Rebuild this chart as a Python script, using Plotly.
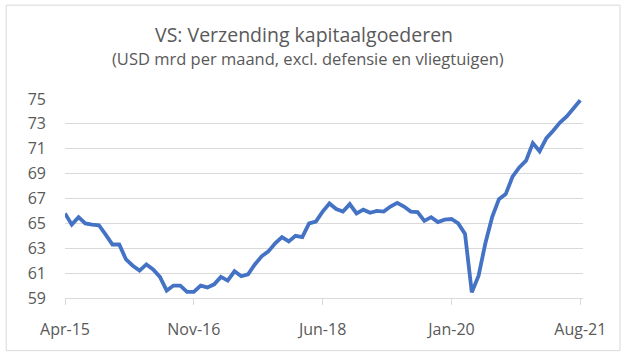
import plotly.graph_objects as go

# Monthly values Apr-2015 .. Aug-2021 (USD bn)
months = ["Apr-15", "May-15", "Jun-15", "Jul-15", "Aug-15", "Sep-15", "Oct-15", "Nov-15", "Dec-15",
          "Jan-16", "Feb-16", "Mar-16", "Apr-16", "May-16", "Jun-16", "Jul-16", "Aug-16", "Sep-16",
          "Oct-16", "Nov-16", "Dec-16", "Jan-17", "Feb-17", "Mar-17", "Apr-17", "May-17", "Jun-17",
          "Jul-17", "Aug-17", "Sep-17", "Oct-17", "Nov-17", "Dec-17", "Jan-18", "Feb-18", "Mar-18",
          "Apr-18", "May-18", "Jun-18", "Jul-18", "Aug-18", "Sep-18", "Oct-18", "Nov-18", "Dec-18",
          "Jan-19", "Feb-19", "Mar-19", "Apr-19", "May-19", "Jun-19", "Jul-19", "Aug-19", "Sep-19",
          "Oct-19", "Nov-19", "Dec-19", "Jan-20", "Feb-20", "Mar-20", "Apr-20", "May-20", "Jun-20",
          "Jul-20", "Aug-20", "Sep-20", "Oct-20", "Nov-20", "Dec-20", "Jan-21", "Feb-21", "Mar-21",
          "Apr-21", "May-21", "Jun-21", "Jul-21", "Aug-21"]

values = [65.8, 64.9, 65.5, 65.0, 64.9, 64.85, 64.1, 63.3, 63.3,
          62.1, 61.6, 61.2, 61.7, 61.3, 60.7, 59.6, 60.0, 60.0,
          59.5, 59.5, 60.0, 59.85, 60.1, 60.7, 60.4, 61.15, 60.75,
          60.9, 61.7, 62.35, 62.75, 63.4, 63.9, 63.55, 64.0, 63.9,
          65.0, 65.15, 65.95, 66.6, 66.15, 65.95, 66.55, 65.8, 66.1,
          65.85, 66.0, 65.95, 66.35, 66.65, 66.35, 65.95, 65.9, 65.2,
          65.5, 65.1, 65.3, 65.35, 65.0, 64.15, 59.45, 60.8, 63.4,
          65.5, 66.95, 67.35, 68.75, 69.5, 70.05, 71.45, 70.8, 71.85,
          72.45, 73.1, 73.6, 74.2, 74.9]

tick_labels = ["Apr-15", "Nov-16", "Jun-18", "Jan-20", "Aug-21"]
y_ticks = [59, 61, 63, 65, 67, 69, 71, 73, 75]

title = "VS: Verzending kapitaalgoederen"
subtitle = "(USD mrd per maand, excl. defensie en vliegtuigen)"

x_idx = list(range(len(months)))
tick_pos = [months.index(t) for t in tick_labels]

TXT = "#595959"
GRID = "#D9D9D9"
FONT = "Open Sans"

fig = go.Figure()
fig.add_trace(go.Scatter(x=x_idx, y=values, mode="lines",
                         line=dict(color="#4472C4", width=3.8),
                         hoverinfo="skip"))

fig.update_layout(
    width=625, height=356,
    margin=dict(l=64.8, r=42, t=99, b=57.7, autoexpand=False),
    paper_bgcolor="white", plot_bgcolor="white",
    showlegend=False,
    font=dict(family=FONT, color=TXT, size=15),
)
fig.update_xaxes(
    range=[0, 76.4], tickmode="array", tickvals=tick_pos, ticktext=tick_labels,
    showgrid=False, zeroline=False,
    showline=True, linecolor=GRID, linewidth=1,
    ticks="outside", ticklen=6, tickcolor=GRID, tickwidth=1,
    tickfont=dict(family=FONT, size=16, color=TXT), ticklabelstandoff=11,
)
fig.update_yaxes(
    range=[59, 75], tickmode="array", tickvals=y_ticks,
    showgrid=True, gridcolor=GRID, gridwidth=1, zeroline=False,
    showline=False, ticks="",
    tickfont=dict(family=FONT, size=16, color=TXT), ticklabelstandoff=18,
)

pw = 625 - 64.8 - 42
ph = 356 - 99 - 57.7
def px(x):
    return (x - 64.8) / pw
def py(y):
    return (298.3 - y) / ph

fig.add_shape(type="rect", xref="paper", yref="paper",
              x0=px(6), x1=px(620), y0=py(351), y1=py(5),
              line=dict(color="#D9D9D9", width=1), fillcolor="rgba(0,0,0,0)", layer="below")

fig.add_annotation(text=title, xref="paper", yref="paper", x=px(304), y=py(34.5),
                   xanchor="center", yanchor="middle", showarrow=False, borderpad=0,
                   font=dict(family=FONT, size=19.5, color=TXT))
fig.add_annotation(text=subtitle, xref="paper", yref="paper", x=px(308), y=py(58.5),
                   xanchor="center", yanchor="middle", showarrow=False, borderpad=0,
                   font=dict(family=FONT, size=16.5, color=TXT))

fig.write_html("out.html", config={"displayModeBar": False},
               post_script="document.body.style.margin='0px';document.body.style.overflow='hidden';")
